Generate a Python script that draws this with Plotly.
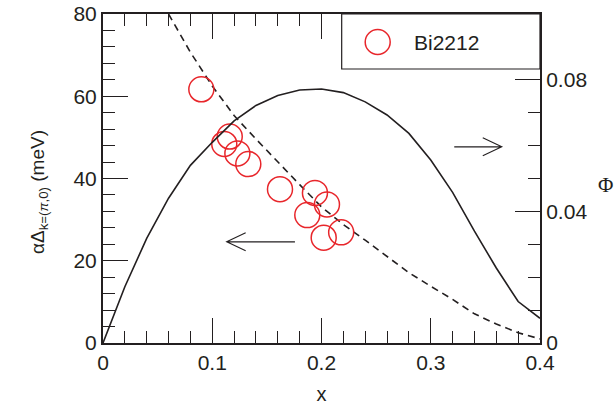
import plotly.graph_objects as go

# Gap data for Bi2212 (meV) against hole doping x
x_bi2212 = [0.090, 0.116, 0.111, 0.123, 0.133, 0.162, 0.194, 0.205, 0.187, 0.218, 0.202]
gap_bi2212 = [61.7, 50.2, 48.4, 46.1, 43.5, 37.4, 36.5, 33.7, 31.1, 26.9, 25.6]

# Calculated gap (dashed, left axis)
x_gap_calc = [0.06, 0.08, 0.10, 0.12, 0.14, 0.16, 0.18, 0.20, 0.22, 0.24,
              0.26, 0.28, 0.30, 0.32, 0.34, 0.36, 0.38, 0.40]
gap_calc = [80.0, 70.7, 62.5, 55.3, 49.6, 44.0, 38.5, 33.1, 28.8, 25.0,
            21.0, 17.1, 13.8, 10.6, 7.1, 4.6, 2.5, 1.0]

# Order parameter Phi (solid, right axis)
x_phi = [0.00, 0.02, 0.04, 0.06, 0.08, 0.10, 0.12, 0.14, 0.16, 0.18, 0.20,
         0.22, 0.24, 0.26, 0.28, 0.30, 0.32, 0.34, 0.36, 0.38, 0.40]
phi = [0.0, 0.0171, 0.0318, 0.0440, 0.0540, 0.0610, 0.0675, 0.0722, 0.0752,
       0.0769, 0.0772, 0.0761, 0.0733, 0.0693, 0.0637, 0.0556, 0.0458, 0.0340,
       0.0228, 0.0126, 0.0075]

series_name = "Bi2212"

INK = "#231f20"
RED = "#e8262b"
FONT = "Liberation Sans, Arial, sans-serif"

W, H = 614, 405
M_L, M_R, M_T, M_B = 103, 74, 14, 62
X_RANGE = [0, 0.4]
Y_RANGE = [0, 80]

fig = go.Figure()

fig.add_trace(go.Scatter(
    x=x_gap_calc, y=gap_calc, mode="lines",
    line=dict(color=INK, width=1.6, dash="7px,5px"),
    showlegend=False, yaxis="y"))

fig.add_trace(go.Scatter(
    x=x_phi, y=phi, mode="lines",
    line=dict(color=INK, width=1.6),
    showlegend=False, yaxis="y2"))

fig.add_trace(go.Scatter(
    x=x_bi2212, y=gap_bi2212, mode="markers", name=series_name,
    marker=dict(symbol="circle-open", size=25, color=RED, line=dict(width=1.5, color=RED)),
    showlegend=False, yaxis="y"))

axis_common = dict(
    showline=True, linecolor=INK, linewidth=2,
    ticks="inside", ticklen=25, tickwidth=1, tickcolor=INK,
    showgrid=False, zeroline=False, automargin=False,
    tickfont=dict(family=FONT, size=21, color=INK),
)

fig.update_layout(
    width=W, height=H,
    margin=dict(l=M_L, r=M_R, t=M_T, b=M_B),
    paper_bgcolor="white", plot_bgcolor="white",
    xaxis=dict(
        range=X_RANGE, dtick=0.1, tick0=0, mirror="ticks",
        minor=dict(dtick=0.02, ticks="inside", ticklen=12, tickwidth=1, tickcolor=INK),
        title=dict(text="x", font=dict(family=FONT, size=20, color=INK), standoff=14),
        **axis_common),
    yaxis=dict(
        range=Y_RANGE, dtick=20, tick0=0,
        minor=dict(dtick=4, ticks="inside", ticklen=12, tickwidth=1, tickcolor=INK),
        **axis_common),
    yaxis2=dict(
        range=[0, 0.1], dtick=0.04, tick0=0, overlaying="y", side="right",
        minor=dict(dtick=0.01, ticks="inside", ticklen=12, tickwidth=1, tickcolor=INK),
        **axis_common),
)

# Left axis title (rotated) and right axis symbol
fig.add_annotation(
    text="αΔ<sub>k=(<i>π</i>,0)</sub> (meV)",
    xref="paper", yref="paper", x=0, y=0.459, xshift=-78,
    textangle=-90, showarrow=False,
    font=dict(family=FONT, size=19, color=INK))
fig.add_annotation(
    text="Φ", xref="paper", yref="paper", x=1, y=0.48, xshift=56,
    xanchor="left", showarrow=False,
    font=dict(family="Liberation Serif, serif", size=21, color=INK))

# Open V arrows pointing toward the axis each curve belongs to
px_per_x = (W - M_L - M_R) / (X_RANGE[1] - X_RANGE[0])
px_per_y = (H - M_T - M_B) / (Y_RANGE[1] - Y_RANGE[0])
HEAD_LEN, HEAD_HALF = 19 / px_per_x, 9 / px_per_y


def arrow_path(x_tail, x_tip, y):
    d = HEAD_LEN if x_tip > x_tail else -HEAD_LEN
    return (f"M {x_tail},{y} L {x_tip},{y} "
            f"M {x_tip - d},{y + HEAD_HALF} L {x_tip},{y} L {x_tip - d},{y - HEAD_HALF}")


for x_tail, x_tip, y in [(0.1757, 0.1132, 24.6), (0.3215, 0.365, 47.7)]:
    fig.add_shape(type="path", xref="x", yref="y", path=arrow_path(x_tail, x_tip, y),
                  line=dict(color=INK, width=1.1))

# Legend box with an open-circle key
fig.add_shape(type="rect", xref="paper", yref="paper",
              x0=0.5462, x1=1, y0=0.8328, y1=1,
              line=dict(color=INK, width=1.2), fillcolor="white", layer="above")
fig.add_shape(type="circle", xref="paper", yref="paper",
              xsizemode="pixel", ysizemode="pixel",
              xanchor=0.6286, yanchor=0.9149, x0=-12.5, x1=12.5, y0=-12.5, y1=12.5,
              line=dict(color=RED, width=1.5), layer="above")
fig.add_annotation(text=series_name, xref="paper", yref="paper",
                   x=0.7071, y=0.912, xanchor="left", yanchor="middle",
                   showarrow=False, font=dict(family=FONT, size=21, color=INK))

fig.write_html("out.html")
